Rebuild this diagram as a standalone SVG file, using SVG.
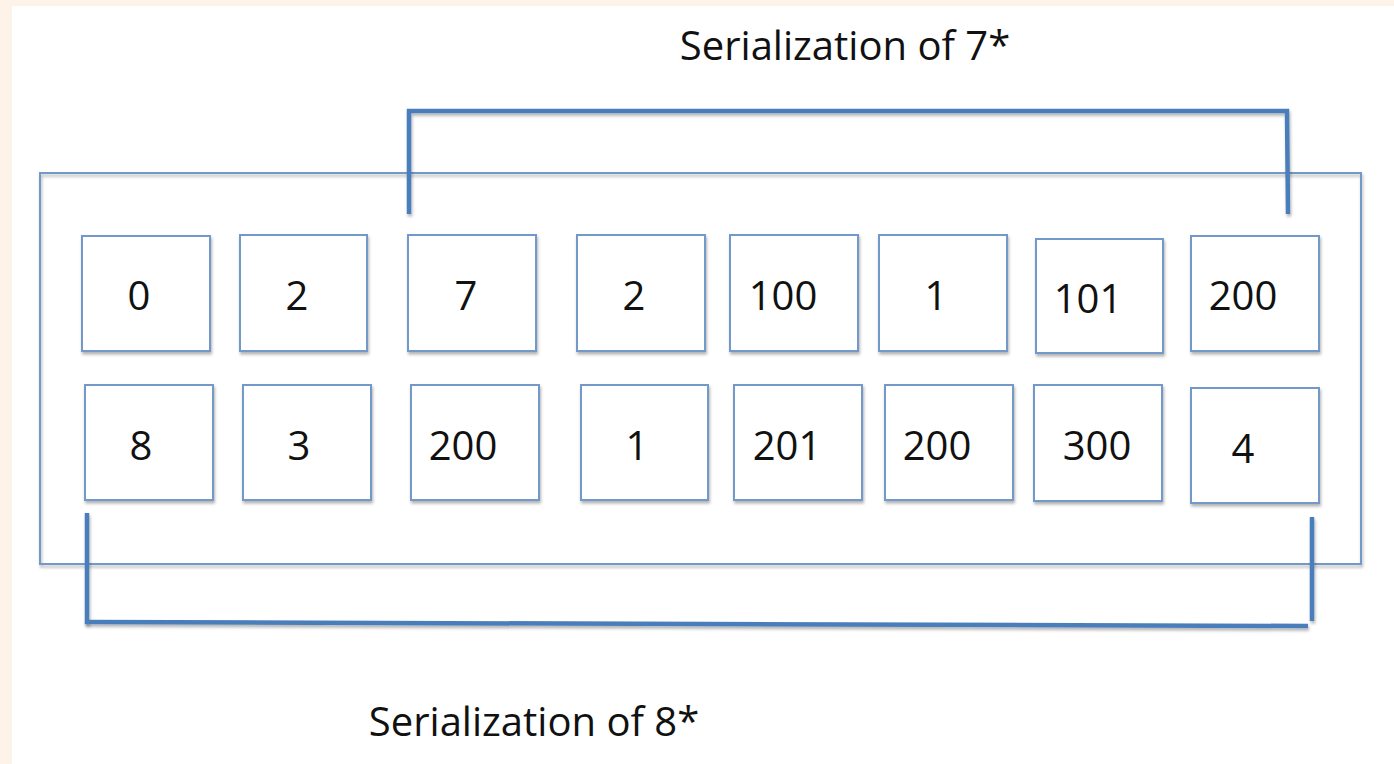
<svg xmlns="http://www.w3.org/2000/svg" width="1394" height="764" viewBox="0 0 1394 764">
<defs>
<filter id="sh" filterUnits="userSpaceOnUse" x="0" y="0" width="1394" height="764">
<feDropShadow dx="1" dy="2.5" stdDeviation="1.5" flood-color="#000" flood-opacity="0.3"/>
</filter>
<style>
.box{fill:#fff;stroke:#7399cb;stroke-width:2;filter:url(#sh)}
.outer{fill:none;stroke:#7399cb;stroke-width:2;filter:url(#sh)}
.br{fill:none;stroke:#4a7ebb;stroke-width:4.5;stroke-linecap:butt;stroke-linejoin:miter;filter:url(#sh)}
.num{font-family:"Open Sans","Liberation Sans",sans-serif;font-size:40px;fill:#111;text-anchor:middle}
.lbl{font-family:"Open Sans","Liberation Sans",sans-serif;font-size:40px;fill:#111;text-anchor:middle}
</style>
</defs>
<rect x="0" y="0" width="1394" height="764" fill="#fdf3e8"/>
<rect x="12" y="6" width="1382" height="758" fill="#fff"/>

<g id="container"><rect class="outer" x="40" y="173" width="1321" height="391"/></g>

<g id="c0"><rect class="box" x="82" y="236" width="128" height="115"/><text class="num" x="139" y="310">0</text></g>
<g id="c1"><rect class="box" x="240" y="235" width="127" height="116"/><text class="num" x="297" y="310">2</text></g>
<g id="c2"><rect class="box" x="408" y="235" width="128" height="116"/><text class="num" x="466" y="310">7</text></g>
<g id="c3"><rect class="box" x="577" y="235" width="128" height="116"/><text class="num" x="634" y="310">2</text></g>
<g id="c4"><rect class="box" x="730" y="235" width="128" height="116"/><text class="num" x="783" y="310">100</text></g>
<g id="c5"><rect class="box" x="879" y="235" width="128" height="116"/><text class="num" x="936" y="310">1</text></g>
<g id="c6"><rect class="box" x="1036" y="239" width="127" height="114"/><text class="num" x="1088" y="313">101</text></g>
<g id="c7"><rect class="box" x="1191" y="236" width="128" height="115"/><text class="num" x="1243" y="310">200</text></g>

<g id="d0"><rect class="box" x="85" y="385" width="128" height="115"/><text class="num" x="141" y="460">8</text></g>
<g id="d1"><rect class="box" x="243" y="385" width="128" height="115"/><text class="num" x="299" y="460">3</text></g>
<g id="d2"><rect class="box" x="411" y="385" width="128" height="115"/><text class="num" x="463" y="460">200</text></g>
<g id="d3"><rect class="box" x="581" y="385" width="127" height="115"/><text class="num" x="637" y="460">1</text></g>
<g id="d4"><rect class="box" x="734" y="385" width="128" height="115"/><text class="num" x="787" y="460">201</text></g>
<g id="d5"><rect class="box" x="885" y="385" width="128" height="115"/><text class="num" x="937" y="460">200</text></g>
<g id="d6"><rect class="box" x="1034" y="385" width="128" height="116"/><text class="num" x="1097" y="460">300</text></g>
<g id="d7"><rect class="box" x="1191" y="388" width="128" height="115"/><text class="num" x="1243" y="463">4</text></g>

<g id="connectors">
<polyline class="br" points="409,214 409,111 1287,111 1288,214"/>
<line class="br" x1="87" y1="513" x2="87" y2="624"/>
<line class="br" x1="85" y1="622" x2="1308" y2="626"/>
<line class="br" x1="1312" y1="517" x2="1312" y2="621"/>
</g>

<g id="labels">
<text class="lbl" x="845" y="60">Serialization of 7*</text>
<text class="lbl" x="534" y="736">Serialization of 8*</text>
</g>
</svg>
